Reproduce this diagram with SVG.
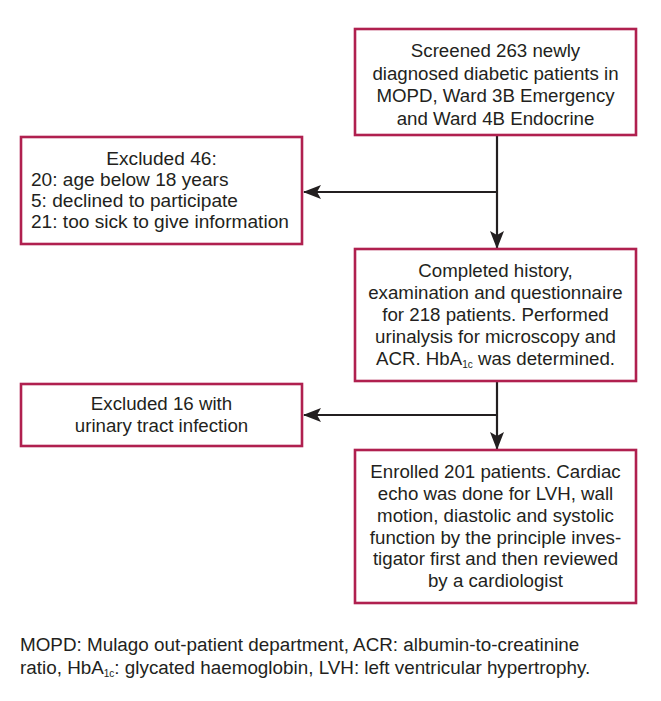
<svg xmlns="http://www.w3.org/2000/svg" width="661" height="701" viewBox="0 0 661 701">
<defs>
<style>
.box{fill:#fff;stroke:#b0204f;stroke-width:2.6}
.t{font-family:"Liberation Sans",Arial,sans-serif;font-size:18.7px;fill:#231f20}
.c{text-anchor:middle}
.cap{font-family:"Liberation Sans",Arial,sans-serif;font-size:18.85px;fill:#231f20}
.ln{stroke:#231f20;stroke-width:2.2;fill:none}
</style>
<marker id="ah" markerUnits="userSpaceOnUse" markerWidth="18" markerHeight="14" viewBox="0 0 18 14" refX="17" refY="7" orient="auto">
<path d="M0,0 L18,7 L0,14 L4,7 Z" fill="#231f20"/>
</marker>
</defs>
<rect width="661" height="701" fill="#fff"/>
<g id="connectors">
<line class="ln" x1="497" y1="135" x2="497" y2="248" marker-end="url(#ah)"/>
<line class="ln" x1="497" y1="192" x2="304" y2="192" marker-end="url(#ah)"/>
<line class="ln" x1="497" y1="381" x2="497" y2="449" marker-end="url(#ah)"/>
<line class="ln" x1="497" y1="415" x2="304" y2="415" marker-end="url(#ah)"/>
</g>
<g id="screened">
<rect class="box" x="355" y="29" width="281" height="106"/>
<text class="t c" x="495.5" y="57">Screened 263 newly</text>
<text class="t c" x="495.5" y="79.5">diagnosed diabetic patients in</text>
<text class="t c" x="495.5" y="102">MOPD, Ward 3B Emergency</text>
<text class="t c" x="495.5" y="124.5">and Ward 4B Endocrine</text>
</g>
<g id="excluded46">
<rect class="box" x="21" y="137" width="281" height="107"/>
<text class="t c" x="161.5" y="165" style="font-size:19.1px">Excluded 46:</text>
<text class="t" x="31" y="186" style="font-size:19.1px">20: age below 18 years</text>
<text class="t" x="31" y="207" style="font-size:19.1px">5: declined to participate</text>
<text class="t" x="31" y="228" style="font-size:19.1px">21: too sick to give information</text>
</g>
<g id="completed">
<rect class="box" x="355" y="249" width="281" height="132"/>
<text class="t c" x="495.5" y="277">Completed history,</text>
<text class="t c" x="495.5" y="299">examination and questionnaire</text>
<text class="t c" x="495.5" y="321">for 218 patients. Performed</text>
<text class="t c" x="495.5" y="343">urinalysis for microscopy and</text>
<text class="t c" x="495.5" y="365">ACR. HbA<tspan font-size="10px" dy="3">1c</tspan><tspan dy="-3"> was determined.</tspan></text>
</g>
<g id="excluded16">
<rect class="box" x="21" y="384" width="281" height="62"/>
<text class="t c" x="161.5" y="410">Excluded 16 with</text>
<text class="t c" x="161.5" y="432">urinary tract infection</text>
</g>
<g id="enrolled">
<rect class="box" x="355" y="450" width="281" height="153"/>
<text class="t c" x="495.5" y="478">Enrolled 201 patients. Cardiac</text>
<text class="t c" x="495.5" y="500">echo was done for LVH, wall</text>
<text class="t c" x="495.5" y="522">motion, diastolic and systolic</text>
<text class="t c" x="495.5" y="543.5">function by the principle inves-</text>
<text class="t c" x="495.5" y="565">tigator first and then reviewed</text>
<text class="t c" x="495.5" y="587">by a cardiologist</text>
</g>
<g id="caption">
<text class="cap" x="20" y="651">MOPD: Mulago out-patient department, ACR: albumin-to-creatinine</text>
<text class="cap" x="20" y="674">ratio, HbA<tspan font-size="10px" dy="3">1c</tspan><tspan dy="-3">: glycated haemoglobin, LVH: left ventricular hypertrophy.</tspan></text>
</g>
</svg>
